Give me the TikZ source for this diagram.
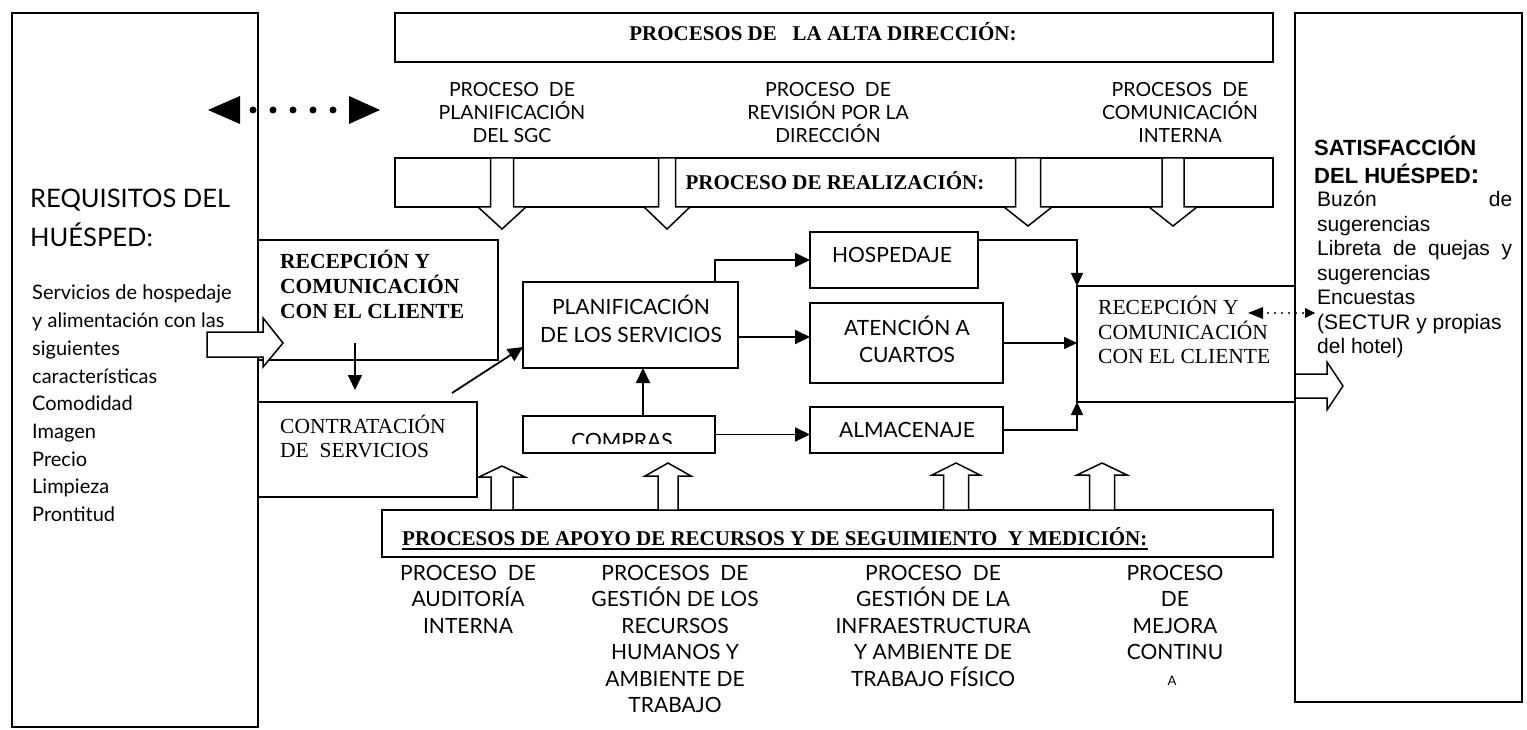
\documentclass[tikz,border=0pt]{standalone}
\usepackage{fontspec}
\setmainfont{Liberation Serif}
\newfontfamily\handfont{Lato}
\newfontfamily\arialfont{Liberation Sans}
\usetikzlibrary{arrows.meta}
% one node per text line: name, x, first baseline, line step, style, lines
\newcommand\linestack[6]{%
  \foreach \tline [count=\k] in {#6}{%
    \node[#5] (#1-\k) at (#2,{#3+#4*(\k-1)}) {\tline};}}
\begin{document}
\begin{tikzpicture}[x=1pt,y=-1pt,
  box/.style={draw, line width=1.8pt, fill=white, inner sep=0pt, outer sep=0pt, anchor=north west},
  blk/.style={draw, line width=1.5pt, fill=white, line join=miter},
  conn/.style={line width=1.8pt, -{Triangle[length=15pt,width=14pt]}},
  conns/.style={line width=1.6pt, -{Triangle[length=13pt,width=12pt]}},
  h19/.style={font=\handfont\fontsize{19.5}{23}\selectfont, anchor=base, inner sep=0pt},
  h21/.style={font=\handfont\fontsize{21}{25}\selectfont, anchor=base, inner sep=0pt},
  h20l/.style={font=\handfont\fontsize{20}{24}\selectfont, anchor=base west, inner sep=0pt},
  h25l/.style={font=\handfont\fontsize{25.5}{30}\selectfont, anchor=base west, inner sep=0pt},
  tb/.style={font=\bfseries\fontsize{21}{25}\selectfont, inner sep=0pt},
  tbl/.style={font=\bfseries\fontsize{21.5}{25}\selectfont, anchor=base west, inner sep=0pt},
  tr/.style={font=\fontsize{21.5}{25}\selectfont, anchor=base west, inner sep=0pt},
  trs/.style={font=\fontsize{21.5}{25}\selectfont, anchor=base west, inner sep=0pt},
  ar/.style={font=\arialfont\fontsize{21}{25}\selectfont, anchor=base west, inner sep=0pt},
  arb/.style={font=\arialfont\bfseries\fontsize{22}{26}\selectfont, anchor=base west, inner sep=0pt}
]
\useasboundingbox (0,0) rectangle (1527,730);
\fill[white] (0,0) rectangle (1527,730);

% side panels
\node[box, minimum width=246pt, minimum height=714pt] (lpanel) at (12,13) {};
\node[box, minimum width=227pt, minimum height=689pt] (rpanel) at (1295,13) {};

% process bands
\node[box, minimum width=878pt, minimum height=49pt] (alta) at (395,13) {};
\node[box, minimum width=878pt, minimum height=49pt] (real) at (395,158) {};
\node[box, minimum width=891pt, minimum height=47pt] (apoyo) at (382,510) {};

% realization boxes
\node[box, minimum width=240pt, minimum height=120pt] (rec1) at (258,240) {};
\node[box, minimum width=219pt, minimum height=95pt] (contr) at (258,402) {};
\node[box, minimum width=215pt, minimum height=86pt] (plan) at (523,282) {};
\node[box, minimum width=192pt, minimum height=37pt] (compras) at (523,416) {};
\node[box, minimum width=168pt, minimum height=56pt] (hosp) at (810,232) {};
\node[box, minimum width=193pt, minimum height=80pt] (aten) at (810,303) {};
\node[box, minimum width=193pt, minimum height=46pt] (alm) at (810,407) {};
\node[box, minimum width=218pt, minimum height=116pt] (rec2) at (1077,286) {};

% band titles
\node[tb, anchor=base] (altat) at (823,41) {PROCESOS DE\ \ \ LA ALTA DIRECCIÓN:};
\node[tb, anchor=base] (realt) at (835,190) {PROCESO DE REALIZACIÓN:};
\node[tb, anchor=base west] (apoyot) at (402,545) {PROCESOS DE APOYO DE RECURSOS Y DE SEGUIMIENTO\ \ Y MEDICIÓN:};
\draw[line width=1.2pt] ([yshift=-4pt]apoyot.base west) -- ([yshift=-4pt]apoyot.base east);

% management process labels
\linestack{tl1}{512}{97}{23}{h19}{PROCESO\ \ DE, PLANIFICACIÓN, DEL SGC}
\linestack{tl2}{828}{97}{23}{h19}{PROCESO\ \ DE, REVISIÓN POR LA, DIRECCIÓN}
\linestack{tl3}{1180}{97}{23}{h19}{PROCESOS\ \ DE, COMUNICACIÓN, INTERNA}

% support process labels
\linestack{bl1}{468}{580}{26.5}{h21}{PROCESO\ \ DE, AUDITORÍA, INTERNA}
\linestack{bl2}{675}{580}{26.5}{h21}{PROCESOS\ \ DE, GESTIÓN DE LOS, RECURSOS, HUMANOS Y, AMBIENTE DE, TRABAJO}
\linestack{bl3}{933}{580}{26.5}{h21}{PROCESO\ \ DE, GESTIÓN DE LA, INFRAESTRUCTURA, Y AMBIENTE DE, TRABAJO FÍSICO}
\linestack{bl4}{1175}{580}{26.5}{h21}{PROCESO, DE, MEJORA, CONTINU}
\node[font=\handfont\fontsize{13}{15}\selectfont, anchor=base, inner sep=0pt] (bl4-5) at (1172,685) {A};

% guest requirements
\node[h25l] (req1) at (30,208) {REQUISITOS DEL};
\node[h25l] (req2) at (30,247) {HUÉSPED:};
\linestack{body}{32}{300}{27.7}{h20l}{Servicios de hospedaje, y alimentación con las, siguientes, características, Comodidad, Imagen, Precio, Limpieza, Prontitud}

% guest satisfaction
\node[arb] (sat1) at (1314,156) {SATISFACCIÓN};
\node[arb] (sat2) at (1314,184) {DEL HUÉSPED\fontsize{27}{27}\selectfont:};
\linestack{satl}{1317}{207}{24.4}{ar}{{\hbox to 195pt{Buzón\hfill de}}, sugerencias, {\hbox to 195pt{Libreta\hfill de\hfill quejas\hfill y}}, sugerencias, Encuestas, {(SECTUR y propias}, {del hotel)}}

% box texts
\linestack{rec1t}{280}{269}{24.5}{tbl}{RECEPCIÓN Y, COMUNICACIÓN, CON EL CLIENTE}
\linestack{contrt}{280}{433}{24.5}{tr}{CONTRATACIÓN, DE\ \ SERVICIOS}
\linestack{plant}{631}{314}{28}{h21}{PLANIFICACIÓN, DE LOS SERVICIOS}
\node[h21] (hospt) at (892,263) {HOSPEDAJE};
\linestack{atent}{907}{335}{27}{h21}{ATENCIÓN A, CUARTOS}
\node[h21] (almt) at (907,437) {ALMACENAJE};
\begin{scope}
  \clip (523,416) rectangle (715,443);
  \node[h21] (compt) at (622,448) {COMPRAS};
\end{scope}
\linestack{rec2t}{1098}{315}{24}{trs}{RECEPCIÓN Y, COMUNICACIÓN, CON EL CLIENTE}

% flow connectors
\draw[conn] ([xshift=-23pt]plan.north east) |- (hosp.west);
\draw[conn] ([yshift=6pt]aten.west -| plan.east) -- ([yshift=6pt]aten.west);
\draw[conn] ([xshift=12.5pt]plan.south |- compras.north) -- ([xshift=12.5pt]plan.south);
\draw[conn] (compras.east) -- (compras.east -| alm.west);
\draw[conns] ([yshift=20pt]hosp.east) -| (rec2.north west);
\draw[conns] (aten.east) -- (aten.east -| rec2.west);
\draw[conns] (alm.east) -| (rec2.south west);
\coordinate (vtop) at (355,343);
\coordinate (vtip) at (355,390);
\draw[conn] (vtop) -- (vtip);
\coordinate (dstart) at (452,393);
\draw[conn] (dstart) -- ([yshift=-22pt]plan.west);

% dotted two-way arrow, top left
\coordinate (dl) at (208,110);
\coordinate (dr) at (380,110);
\draw[line width=7pt, line cap=round, dash pattern=on 0pt off 20pt, dash phase=7pt,
      shorten <=32pt, shorten >=31pt] (dl) -- (dr);
\fill (dl) -- ([xshift=32pt,yshift=14pt]dl) -- ([xshift=32pt,yshift=-14pt]dl) -- cycle;
\fill (dr) -- ([xshift=-31pt,yshift=14pt]dr) -- ([xshift=-31pt,yshift=-14pt]dr) -- cycle;

% dotted two-way arrow between reception and satisfaction
\coordinate (el) at (1248,313);
\coordinate (er) at (1315,313);
\draw[line width=2.2pt, line cap=round, dash pattern=on 0pt off 7pt, dash phase=3pt,
      shorten <=16pt, shorten >=11pt] (el) -- (er);
\fill (el) -- ([xshift=15pt,yshift=6pt]el) -- ([xshift=15pt,yshift=-6pt]el) -- cycle;
\fill (er) -- ([xshift=-10pt,yshift=5pt]er) -- ([xshift=-10pt,yshift=-5pt]er) -- cycle;

% block arrows down from management
\draw[blk] (490.5,158) -- (490.5,207) -- (478,207) -- (502,229) -- (526,207) -- (513.5,207) -- (513.5,158) -- cycle;
\draw[blk] (658.5,158) -- (658.5,207) -- (644,207) -- (667,229) -- (690,207) -- (675.5,207) -- (675.5,158) -- cycle;
\draw[blk] (1015.5,158) -- (1015.5,207) -- (1004,207) -- (1028,226) -- (1052,207) -- (1040.5,207) -- (1040.5,158) -- cycle;
\draw[blk] (1162,158) -- (1162,207) -- (1149,207) -- (1173,226) -- (1197,207) -- (1184,207) -- (1184,158) -- cycle;

% block arrows up from support processes
\draw[blk] (491,510) -- (491,477) -- (479,477) -- (502,466) -- (525,477) -- (513,477) -- (513,510) -- cycle;
\draw[blk] (658,510) -- (658,476) -- (645,476) -- (668,463) -- (691,476) -- (678,476) -- (678,510) -- cycle;
\draw[blk] (943.5,510) -- (943.5,475) -- (932,475) -- (956,463) -- (980,475) -- (968.5,475) -- (968.5,510) -- cycle;
\draw[blk] (1089.5,510) -- (1089.5,475) -- (1077,475) -- (1102,463) -- (1127,475) -- (1114.5,475) -- (1114.5,510) -- cycle;

% input and output block arrows
\draw[blk] (207,332) -- (263,332) -- (263,318) -- (283,343) -- (263,367) -- (263,357) -- (207,357) -- cycle;
\draw[blk] (1295,374) -- (1327,374) -- (1327,362) -- (1343,386) -- (1327,410) -- (1327,398) -- (1295,398) -- cycle;
\end{tikzpicture}
\end{document}
